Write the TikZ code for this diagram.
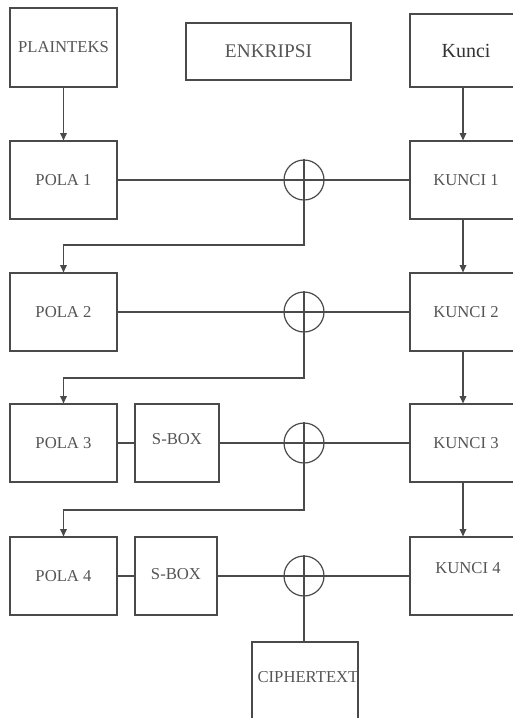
\documentclass[tikz,border=0pt]{standalone}
\usepackage{fontspec}
\setmainfont{Liberation Serif}
\usetikzlibrary{arrows.meta}
\definecolor{ln}{HTML}{4A4A4A}
\definecolor{tx}{HTML}{555555}
\tikzset{
  box/.style={draw=ln, line width=0.9pt, rectangle, inner sep=0pt, text=tx, font=\fontsize{12.5}{14}\selectfont},
  lbl/.style={inner sep=0pt, text=tx, font=\fontsize{12.5}{14}\selectfont},
  xor/.style={draw=ln, line width=0.9pt, circle, inner sep=0pt, minimum size=30pt},
  conn/.style={draw=ln, line width=0.9pt},
  arr/.style={conn, -{Triangle[length=5.5pt,width=5pt]}}
}
\begin{document}
\begin{tikzpicture}[x=0.75pt, y=-0.75pt]
\clip (0,0) rectangle (513,718);
\fill[white] (0,0) rectangle (513,718);
% top row
\node[box, minimum width=80.25pt, minimum height=59.25pt] (plain) at (63.5,47.5) {PLAINTEKS};
\node[box, minimum width=123.75pt, minimum height=42.75pt, font=\fontsize{14.5}{16}\selectfont] (enk) at (268.5,51.5) {ENKRIPSI};
\node[box, minimum width=84pt, minimum height=54.75pt, text=black!80, font=\fontsize{15}{17}\selectfont] (kunci) at (466,50.5) {Kunci};
% row 1
\node[box, minimum width=80.25pt, minimum height=58.5pt] (pola1) at (63.5,180) {POLA 1};
\node[xor] (x1) at (304,180) {};
\node[box, minimum width=84pt, minimum height=58.5pt] (k1) at (466,180) {KUNCI 1};
% row 2
\node[box, minimum width=80.25pt, minimum height=58.5pt] (pola2) at (63.5,312) {POLA 2};
\node[xor] (x2) at (304,312) {};
\node[box, minimum width=84pt, minimum height=58.5pt] (k2) at (466,312) {KUNCI 2};
% row 3
\node[box, minimum width=80.25pt, minimum height=58.5pt] (pola3) at (63.5,443) {POLA 3};
\node[box, minimum width=63pt, minimum height=58.5pt] (s3) at (177,443) {};
\node[lbl] (s3t) at (177,439) {S-BOX};
\node[xor] (x3) at (304,443) {};
\node[box, minimum width=84pt, minimum height=58.5pt] (k3) at (466,443) {KUNCI 3};
% row 4
\node[box, minimum width=80.25pt, minimum height=58.5pt] (pola4) at (63.5,576) {POLA 4};
\node[box, minimum width=61.5pt, minimum height=58.5pt] (s4) at (176,576) {};
\node[lbl] (s4t) at (176,574) {S-BOX};
\node[xor] (x4) at (304,576) {};
\node[box, minimum width=84pt, minimum height=58.5pt] (k4) at (466,576) {};
\node[lbl] (k4t) at (468,568) {KUNCI 4};
% ciphertext
\node[box, minimum width=79.5pt, minimum height=66pt] (ct) at (305,686) {};
\node[lbl] (ctt) at (308,677) {CIPHERTEXT};
% xor plus signs
\foreach \c in {x1,x2,x3,x4}{
  \draw[conn] (\c.north) -- (\c.south);
  \draw[conn] (\c.west) -- (\c.east);
}
% vertical arrows
\draw[arr] (plain) -- (pola1);
\draw[arr] (kunci.south -| 463,0) -- (k1.north -| 463,0);
\draw[arr] (k1.south -| 463,0) -- (k2.north -| 463,0);
\draw[arr] (k2.south -| 463,0) -- (k3.north -| 463,0);
\draw[arr] (k3.south -| 463,0) -- (k4.north -| 463,0);
% horizontal links
\draw[conn] (pola1.east) -- (x1.west);
\draw[conn] (x1.east) -- (k1.west);
\draw[conn] (pola2.east) -- (x2.west);
\draw[conn] (x2.east) -- (k2.west);
\draw[conn] (pola3.east) -- (s3.west);
\draw[conn] (s3.east) -- (x3.west);
\draw[conn] (x3.east) -- (k3.west);
\draw[conn] (pola4.east) -- (s4.west);
\draw[conn] (s4.east) -- (x4.west);
\draw[conn] (x4.east) -- (k4.west);
% feedback
\draw[arr] (x1.south) -- (304,245) -| (pola2.north);
\draw[arr] (x2.south) -- (304,378) -| (pola3.north);
\draw[arr] (x3.south) -- (304,510) -| (pola4.north);
\draw[conn] (x4.south) -- (x4.south |- ct.north);
\end{tikzpicture}
\end{document}
